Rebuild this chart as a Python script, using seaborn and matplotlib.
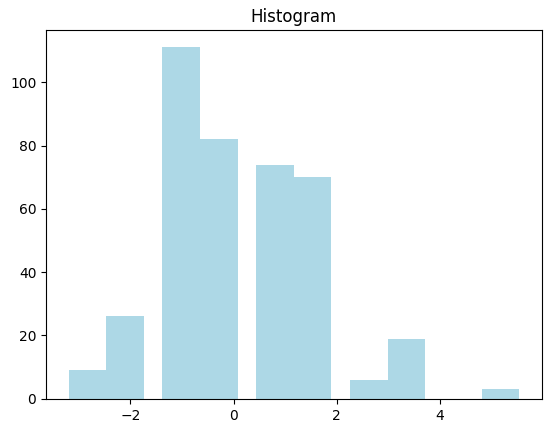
import numpy as np
import seaborn as sns
import matplotlib
matplotlib.use('Agg')
import matplotlib.pyplot as plt

# bin edges (gaps are empty bins)
bin_edges = [-3.2, -2.472, -1.743, -1.379, -0.650, 0.078, 0.443,
             1.171, 1.900, 2.264, 2.993, 3.721, 4.814, 5.543]
counts = [9, 26, 0, 111, 82, 0, 74, 70, 0, 6, 19, 0, 3]

centers = [(a + b) / 2 for a, b in zip(bin_edges[:-1], bin_edges[1:])]

fig, ax = plt.subplots(figsize=(5.55, 4.33), dpi=100)
sns.histplot(x=centers, weights=counts, bins=bin_edges, color='lightblue',
             alpha=1, linewidth=0, ax=ax)
ax.set_title('Histogram')
ax.set_ylabel('')
ax.set_xlabel('')
ax.margins(x=0.05)
ax.set_ylim(0, max(counts) * 1.05)

plt.subplots_adjust(left=0.083, right=0.976, top=0.931, bottom=0.079)
plt.savefig('out.png', dpi=100)
